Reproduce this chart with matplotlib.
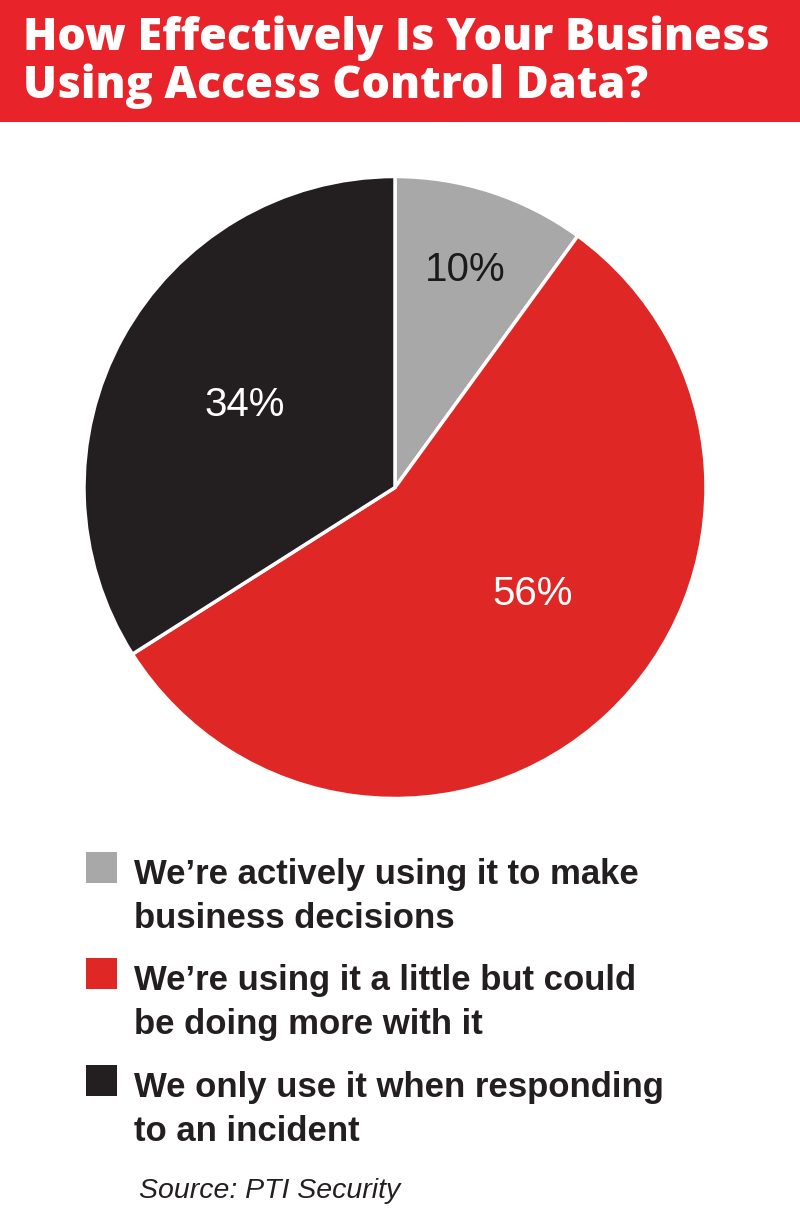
import matplotlib
matplotlib.use("Agg")
import matplotlib.pyplot as plt
from matplotlib.patches import Rectangle
import numpy as np

title_lines = ["How Effectively Is Your Business", "Using Access Control Data?"]
categories = [
    "We\u2019re actively using it to make\nbusiness decisions",
    "We\u2019re using it a little but could\nbe doing more with it",
    "We only use it when responding\nto an incident",
]
values = [10, 56, 34]
pct_labels = ["10%", "56%", "34%"]
colors = ["#A8A8A8", "#DF2826", "#231F20"]
label_colors = ["#1A1A1A", "white", "white"]
source = "Source: PTI Security"

W, H = 800, 1211
fig = plt.figure(figsize=(W / 100, H / 100), dpi=100)
fig.patch.set_facecolor("white")

def fx(x): return x / W
def fy(y): return 1 - y / H

# Title banner
fig.patches.append(Rectangle((0, fy(122)), 1, 122 / H, transform=fig.transFigure,
                             facecolor="#E8232A", edgecolor="none", zorder=0))
title_font = ["Open Sans", "DejaVu Sans"]
for ln, base in zip(title_lines, [50, 98]):
    fig.text(fx(23), fy(base), ln, color="white", fontsize=32.3, fontweight=800,
             family=title_font, va="baseline", ha="left")

# Pie
cx, cy, r = 395, 487.5, 311
ax = fig.add_axes([fx(cx - r), fy(cy + r), 2 * r / W, 2 * r / H])
wedges, _ = ax.pie(values, colors=colors, startangle=90, counterclock=False,
                   wedgeprops=dict(edgecolor="white", linewidth=2.5))
for w in wedges:
    w.set_clip_on(False)
ax.set_xlim(-1.0, 1.0)
ax.set_ylim(-1.0, 1.0)
ax.set_aspect("equal")
ax.axis("off")

label_r = [0.735, 0.56, 0.55]
label_shift = [0, 9, 0]
for w, txt, col, lr, sh in zip(wedges, pct_labels, label_colors, label_r, label_shift):
    ang = np.deg2rad((w.theta1 + w.theta2) / 2 + sh)
    ax.text(lr * np.cos(ang), lr * np.sin(ang), txt, color=col, fontsize=29,
            ha="center", va="center", family=["Liberation Sans", "DejaVu Sans"])

# Legend
legend_font = ["Liberation Sans", "DejaVu Sans"]
tops = [852, 958, 1065]
for top, cat, col in zip(tops, categories, colors):
    fig.patches.append(Rectangle((fx(86), fy(top + 31)), 31 / W, 31 / H,
                                 transform=fig.transFigure, facecolor=col,
                                 edgecolor="none"))
    l1, l2 = cat.split("\n")
    fig.text(fx(134), fy(top + 32), l1, fontsize=25, fontweight="bold",
             family=legend_font, color="#231F20", va="baseline", ha="left")
    fig.text(fx(134), fy(top + 76), l2, fontsize=25, fontweight="bold",
             family=legend_font, color="#231F20", va="baseline", ha="left")

fig.text(fx(139), fy(1198), source, fontsize=20.5, style="italic",
         family=legend_font, color="#231F20", va="baseline", ha="left")

fig.savefig("out.png", dpi=100, facecolor="white")
